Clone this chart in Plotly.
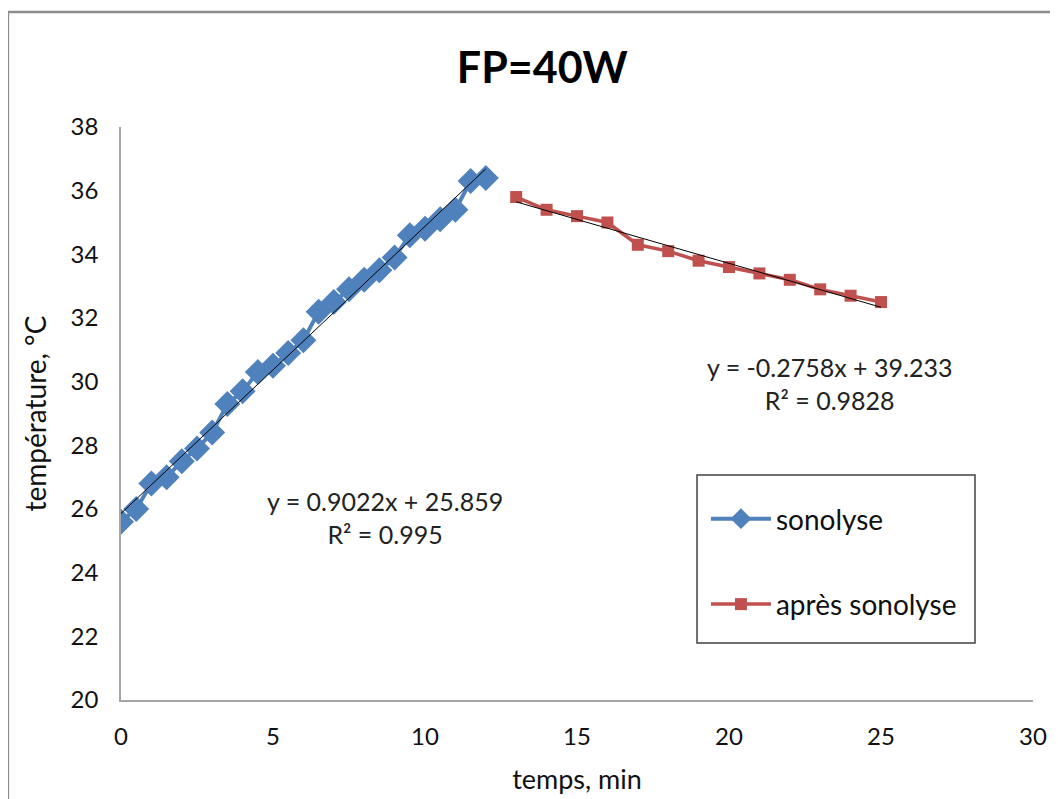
import plotly.graph_objects as go

# -----------------------------
# DATA
# -----------------------------
t_sono = [0, 0.5, 1, 1.5, 2, 2.5, 3, 3.5, 4, 4.5, 5, 5.5, 6,
          6.5, 7, 7.5, 8, 8.5, 9, 9.5, 10, 10.5, 11, 11.5, 12]
temp_sono = [25.6, 26.0, 26.8, 27.0, 27.5, 27.9, 28.4, 29.3, 29.7, 30.3, 30.5, 30.9, 31.3,
             32.2, 32.5, 32.9, 33.2, 33.5, 33.9, 34.6, 34.8, 35.1, 35.4, 36.3, 36.4]

t_apres = [13, 14, 15, 16, 17, 18, 19, 20, 21, 22, 23, 24, 25]
temp_apres = [35.8, 35.4, 35.2, 35.0, 34.3, 34.1, 33.8, 33.6, 33.4, 33.2, 32.9, 32.7, 32.5]

# linear trendlines (slope, intercept, R²) as printed on the chart
fit_sono = [0.9022, 25.859, 0.995]
fit_apres = [-0.2758, 39.233, 0.9828]

x_ticks = [0, 5, 10, 15, 20, 25, 30]
y_ticks = [20, 22, 24, 26, 28, 30, 32, 34, 36, 38]

BLUE = "#4F81BD"
RED = "#C0504D"
FONT = "Lato, Carlito, 'Open Sans', sans-serif"


def trend(xs, fit):
    x_ends = [xs[0], xs[-1]]
    return x_ends, [fit[0] * x + fit[1] for x in x_ends]


def equation(fit):
    sign = "+" if fit[1] >= 0 else "-"
    return f"y = {fit[0]:.4f}x {sign} {abs(fit[1]):.3f}<br>R² = {fit[2]:g}"


fig = go.Figure()

fig.add_trace(go.Scatter(
    x=t_sono, y=temp_sono, name="sonolyse", mode="lines+markers",
    line=dict(color=BLUE, width=4),
    marker=dict(symbol="diamond", size=20, color=BLUE),
    legendgroup="a",
))
fig.add_trace(go.Scatter(
    x=t_apres, y=temp_apres, name="après sonolyse", mode="lines+markers",
    line=dict(color=RED, width=3.5),
    marker=dict(symbol="square", size=12, color=RED),
    legendgroup="b",
))

# trendlines
for xs, fit in [(t_sono, fit_sono), (t_apres, fit_apres)]:
    tx, ty = trend(xs, fit)
    fig.add_trace(go.Scatter(
        x=tx, y=ty, mode="lines", showlegend=False, hoverinfo="skip",
        line=dict(color="black", width=1),
    ))

fig.add_annotation(x=8.7, y=25.72, text=equation(fit_sono), showarrow=False,
                   font=dict(size=25, color="#222"), xref="x", yref="y")
fig.add_annotation(x=23.3, y=29.93, text=equation(fit_apres), showarrow=False,
                   font=dict(size=25, color="#222"), xref="x", yref="y")

# outer chart frame
fig.add_shape(type="rect", xref="paper", yref="paper",
              x0=-0.124, x1=1.2, y0=-0.3, y1=1.2007,
              line=dict(color="#8C8C8C", width=2.5), layer="below")

# legend box (drawn as a shape to get Excel-like padding)
fig.add_shape(type="rect", xref="paper", yref="paper",
              x0=0.6316, x1=0.9364, y0=0.0995, y1=0.3927,
              line=dict(color="#404040", width=1.5), fillcolor="white", layer="below")

fig.update_layout(
    width=1058, height=799,
    margin=dict(l=113, r=33, t=119, b=107),
    paper_bgcolor="white", plot_bgcolor="white",
    font=dict(family=FONT, color="#111"),
    title=dict(text="<b>FP=40W</b>", x=0.505, xanchor="center", y=0.925, yanchor="middle",
               font=dict(size=43, color="black")),
    xaxis=dict(range=[0, 30], tickvals=x_ticks, showgrid=False, zeroline=False,
               showline=True, linecolor="#A6A6A6", linewidth=1.5, ticks="",
               tickfont=dict(size=24), ticklabelstandoff=14,
               title=dict(text="temps, min", font=dict(size=27), standoff=22)),
    yaxis=dict(range=[20, 38], tickvals=y_ticks, showgrid=False, zeroline=False,
               showline=True, linecolor="#A6A6A6", linewidth=1.5, ticks="",
               tickfont=dict(size=24), ticklabelstandoff=16,
               title=dict(text="température, °C", font=dict(size=28), standoff=16)),
    legend=dict(x=0.6414, y=0.3595, xanchor="left", yanchor="top",
                borderwidth=0, bgcolor="rgba(0,0,0,0)",
                font=dict(size=28), tracegroupgap=46,
                itemwidth=60),
    showlegend=True,
)

fig.write_html("out.html")
